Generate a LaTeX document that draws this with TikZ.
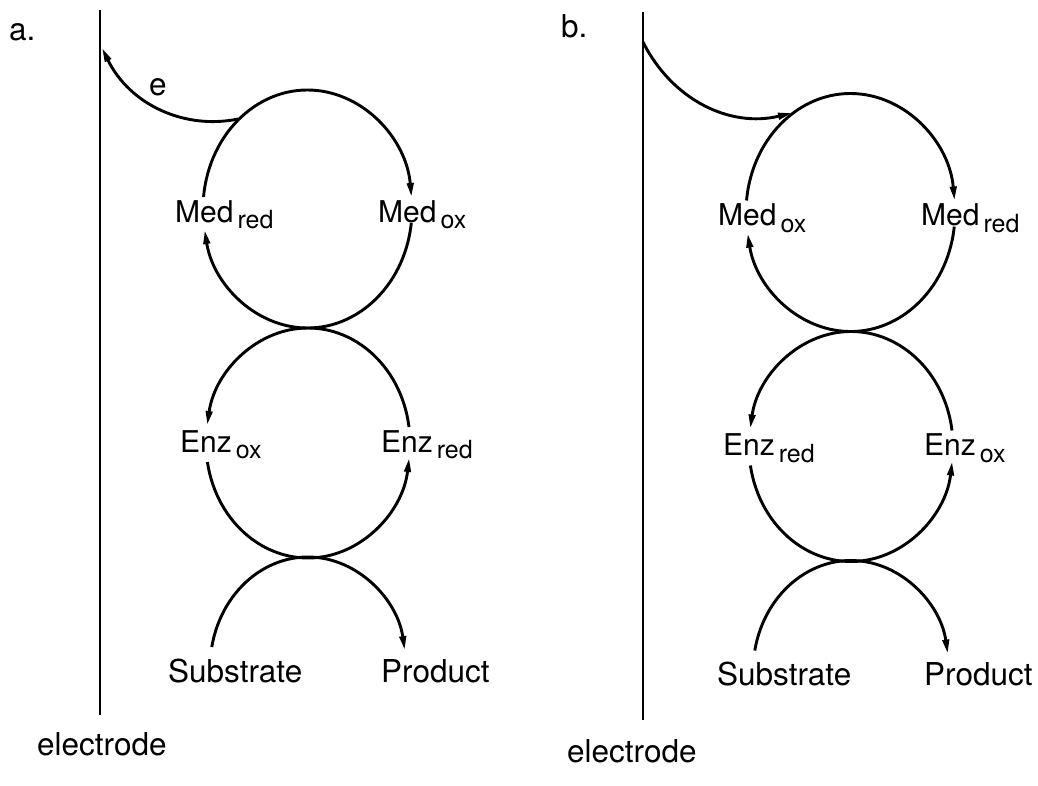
\documentclass[tikz,border=0pt]{standalone}
\usepackage{fontspec}
\setmainfont{TeX Gyre Heros}
\usetikzlibrary{arrows.meta}
\newcommand\lowsub[1]{\hspace{4pt}\raisebox{-6.5pt}{\fontsize{25}{25}\selectfont #1}}
\begin{document}
\begin{tikzpicture}[x=1pt,y=1pt,yscale=-1,
  ln/.style={line width=2.9pt},
  arr/.style={ln,-{Triangle[length=14pt,width=6.5pt]}},
  lab/.style={inner sep=0pt,anchor=base west,font=\fontsize{30}{30}\selectfont},
  big/.style={lab,font=\fontsize{31.5}{31.5}\selectfont},
]
\useasboundingbox (0,0) rectangle (1038,785);
% ---------- panel a ----------
\coordinate (ea1) at (100,10);
\coordinate (ea2) at (100,715);
\draw[ln] (ea1) -- (ea2);
\coordinate (eatip) at (102,48);
\coordinate (ja) at (238,119);
\draw[arr] (ja) .. controls (185,130) and (130,105) .. (eatip);
\coordinate (c1) at (307.5,209);
\coordinate (c2) at (308,443);
\coordinate (c3) at (308,668);
\draw[arr] ([shift={(185.8:104.5 and 119)}]c1) arc[start angle=185.8,end angle=354.2,x radius=104.5,y radius=119];
\draw[arr] ([shift={(6.8:104.5 and 119)}]c1) arc[start angle=6.8,end angle=169.8,x radius=104.5,y radius=119];
\draw[arr] ([shift={(352:102 and 115)}]c2) arc[start angle=352,end angle=189,x radius=102,y radius=115];
\draw[arr] ([shift={(170.5:102 and 115)}]c2) arc[start angle=170.5,end angle=7.5,x radius=102,y radius=115];
\draw[arr] ([shift={(190.9:98 and 111)}]c3) arc[start angle=190.9,end angle=350.7,x radius=98,y radius=111];
\node[lab] (medreda) at (175,222) {Med\lowsub{red}};
\node[lab] (medoxa) at (378,222) {Med\lowsub{ox}};
\node[lab] (enzoxa) at (180,452) {Enz\lowsub{ox}};
\node[lab] (enzreda) at (381,452) {Enz\lowsub{red}};
\node[big] (suba) at (168,682) {Substrate};
\node[big] (proda) at (381,682) {Product};
\node[big] (ea) at (149,95) {e};
\node[big] (la) at (9,40) {a.};
\node[big] (ela) at (37,755) {electrode};
% ---------- panel b ----------
\coordinate (eb1) at (643,12);
\coordinate (eb2) at (643,720);
\draw[ln] (eb1) -- (eb2);
\coordinate (ebstart) at (643,42);
\coordinate (jb) at (792,113);
\draw[arr] (ebstart) .. controls (672,100) and (730,128) .. (jb);
\begin{scope}[shift={(543,3.5)}]
\coordinate (c4) at (307.5,209);
\coordinate (c5) at (308,443);
\coordinate (c6) at (308,668);
\draw[arr] ([shift={(185.8:104.5 and 119)}]c4) arc[start angle=185.8,end angle=354.2,x radius=104.5,y radius=119];
\draw[arr] ([shift={(6.8:104.5 and 119)}]c4) arc[start angle=6.8,end angle=169.8,x radius=104.5,y radius=119];
\draw[arr] ([shift={(352:102 and 115)}]c5) arc[start angle=352,end angle=189,x radius=102,y radius=115];
\draw[arr] ([shift={(170.5:102 and 115)}]c5) arc[start angle=170.5,end angle=7.5,x radius=102,y radius=115];
\draw[arr] ([shift={(190.9:98 and 111)}]c6) arc[start angle=190.9,end angle=350.7,x radius=98,y radius=111];
\node[lab] (medoxb) at (175,222) {Med\lowsub{ox}};
\node[lab] (medredb) at (378,222) {Med\lowsub{red}};
\node[lab] (enzredb) at (180,452) {Enz\lowsub{red}};
\node[lab] (enzoxb) at (381,452) {Enz\lowsub{ox}};
\node[big] (subb) at (174,682) {Substrate};
\node[big] (prodb) at (381,682) {Product};
\end{scope}
\node[big] (lb) at (561,37) {b.};
\node[big] (elb) at (567,762) {electrode};
\end{tikzpicture}
\end{document}
